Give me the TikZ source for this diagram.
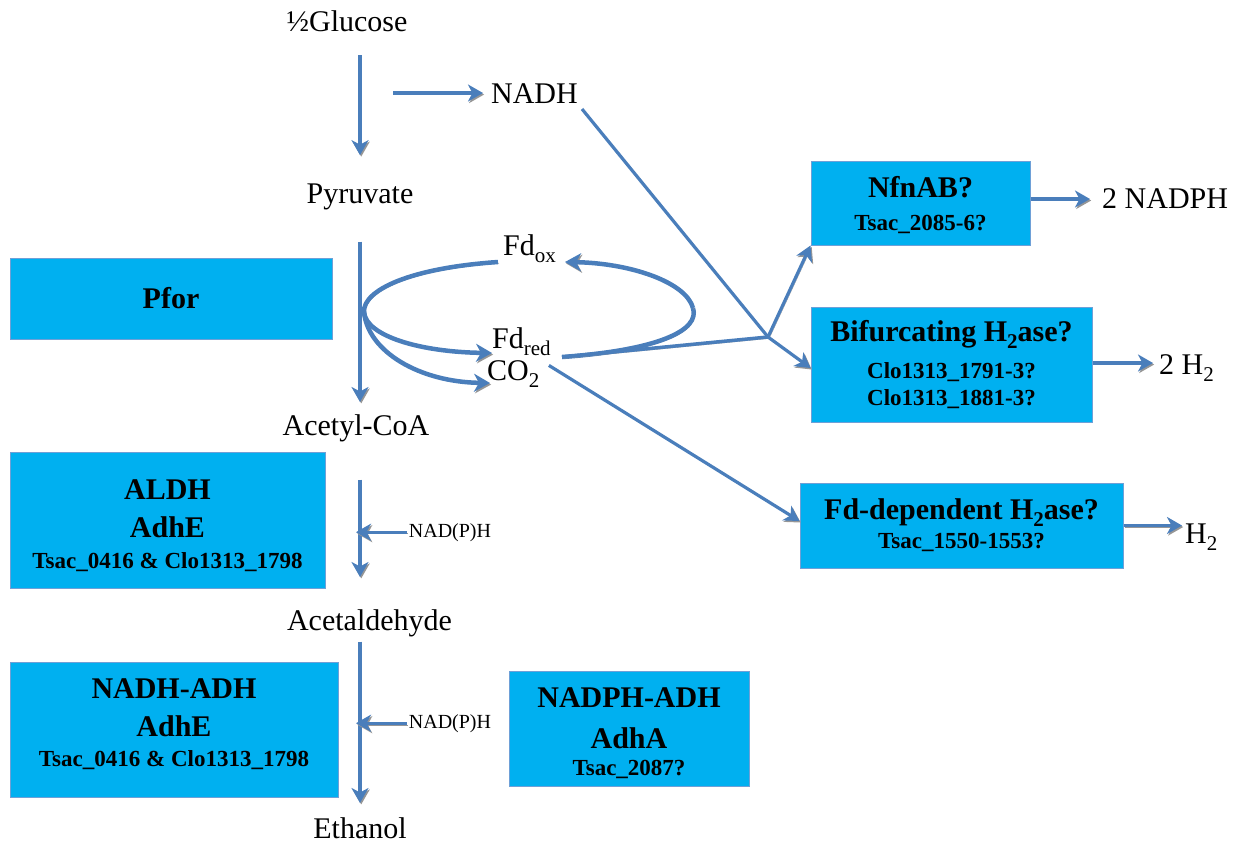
\documentclass[tikz,border=0pt]{standalone}
\usepackage{fontspec}
\setmainfont{Liberation Serif}
\usetikzlibrary{arrows.meta}
\definecolor{arrowblue}{RGB}{74,126,187}
\definecolor{boxfill}{RGB}{0,176,240}
\definecolor{boxline}{RGB}{110,160,215}
\definecolor{shade}{RGB}{150,150,150}
\newcommand\lowsub[1]{\raisebox{-7pt}{\fontsize{21}{21}\selectfont #1}}
\newcommand\genefont{\fontsize{23}{28}\selectfont}
\newcommand\topstrut[1]{\rule{0pt}{#1}}
\newcommand\botstrut[1]{\rule[-#1]{0pt}{#1}}
\begin{document}
\begin{tikzpicture}[x=1pt,y=-1pt,
  lbl/.style={inner sep=0pt, font=\fontsize{30}{30}\selectfont, anchor=base},
  cofactor/.style={inner sep=0pt, font=\fontsize{20}{20}\selectfont, anchor=base},
  enzyme/.style={draw=boxline, line width=1pt, fill=boxfill, inner sep=0pt, align=center,
    font=\bfseries\fontsize{30}{37}\selectfont},
  shadowed/.style={preaction={draw=shade, transform canvas={shift={(1.2pt,-1.5pt)}}}},
  flow/.style={draw=arrowblue, line width=3.2pt, -{Stealth[length=15pt,width=17pt,inset=4.5pt]}, shadowed},
  bigflow/.style={draw=arrowblue, line width=4.5pt, -{Stealth[length=16pt,width=18pt,inset=5pt]}, shadowed},
  plainline/.style={draw=arrowblue, line width=3.5pt, shadowed},
]
\useasboundingbox (0,0) rectangle (1241,846);

% metabolites
\node[lbl] (glucose) at (347,31) {½Glucose};
\node[lbl] (nadh) at (534.5,103) {NADH};
\node[lbl] (pyruvate) at (360,203) {Pyruvate};
\node[lbl] (acetyl) at (356,435) {Acetyl-CoA};
\node[lbl] (acetald) at (369.5,630) {Acetaldehyde};
\node[lbl] (ethanol) at (360,838) {Ethanol};
\node[lbl, anchor=base west] (fdox) at (503,255) {Fd\lowsub{ox}};
\node[lbl, anchor=base west] (fdred) at (492,348) {Fd\lowsub{red}};
\node[lbl, anchor=base west] (co2) at (487,380) {CO\lowsub{2}};
\node[cofactor] (nadph1) at (450,537) {NAD(P)H};
\node[cofactor] (nadph2) at (450,728) {NAD(P)H};
\node[lbl, anchor=base west] (outnadph) at (1102,208) {2 NADPH};
\node[lbl, anchor=base west] (outh2a) at (1159,374) {2 H\lowsub{2}};
\node[lbl, anchor=base west] (outh2b) at (1185,543) {H\lowsub{2}};

% enzyme boxes
\node[enzyme, minimum width=322, minimum height=81] (pfor) at (171,298.5) {Pfor};
\node[enzyme, minimum width=315, minimum height=136] (aldh) at (167.5,520)
  {\topstrut{31pt}ALDH\\[1pt]AdhE\\[-6pt]{\genefont Tsac\_0416 \& Clo1313\_1798}};
\node[enzyme, minimum width=328, minimum height=135] (nadhadh) at (174,729.5)
  {NADH-ADH\\[1pt]AdhE\\[-7pt]{\genefont Tsac\_0416 \& Clo1313\_1798\botstrut{14pt}}};
\node[enzyme, minimum width=240, minimum height=115] (nadphadh) at (629,728.5)
  {\topstrut{29pt}NADPH-ADH\\[4pt]AdhA\\[-10pt]{\genefont Tsac\_2087?}};
\node[enzyme, minimum width=219, minimum height=84] (nfnab) at (920.5,203)
  {\topstrut{25pt}NfnAB?\\[-4pt]{\genefont Tsac\_2085-6?}};
\node[enzyme, minimum width=281, minimum height=115] (bif) at (951.5,364.5)
  {Bifurcating H\lowsub{2}ase?\\[0pt]{\genefont Clo1313\_1791-3?}\\[-10pt]{\genefont Clo1313\_1881-3?}};
\node[enzyme, minimum width=323, minimum height=85] (fddep) at (961.5,525.5)
  {Fd-dependent H\lowsub{2}ase?\\[-8pt]{\genefont Tsac\_1550-1553?}};

% helper points
\coordinate (nadhsrc) at (393,93);
\coordinate (junction) at (768,337);
\coordinate (loopleft) at (364,312);
\coordinate (loopright) at (693,308);
\coordinate (fdredout) at (562,357);
\coordinate (fdoxin) at (498,262);
\coordinate (fdoxtip) at (565,262);
\coordinate (fdredtip) at (492,353);
\coordinate (co2tip) at (490,383);
\coordinate (nadhout) at (582,109);

% main pathway
\draw[flow, shorten <=24pt, shorten >=28pt] (glucose.south -| pyruvate.north) -- (pyruvate.north);
\draw[flow, shorten >=8pt] (nadhsrc) -- (nadh.west |- nadhsrc);
\draw[flow, shorten <=32pt, shorten >=12pt] (pyruvate.south) -- (pyruvate.south |- acetyl.north);
\draw[flow, shorten <=38pt, shorten >=32pt] (acetyl.south -| ethanol.north) -- (acetald.north -| ethanol.north);
\draw[flow, shorten <=5pt, shorten >=14pt] (acetald.south -| ethanol.north) -- (ethanol.north);
\draw[flow, shorten <=2pt, shorten >=-4pt] (nadph1.west) -- (nadph1.west -| ethanol.north);
\draw[flow, shorten <=2pt, shorten >=-4pt] (nadph2.west) -- (nadph2.west -| ethanol.north);

% ferredoxin loops
\draw[plainline, line width=4.5pt] (fdoxin) .. controls (410,268) and (363,290) .. (loopleft);
\draw[bigflow] (loopleft) .. controls (366,336) and (420,352) .. (fdredtip);
\draw[bigflow] (loopleft) .. controls (368,352) and (420,382) .. (co2tip);
\draw[plainline, line width=4.5pt] (fdredout) .. controls (660,350) and (700,330) .. (loopright);
\draw[bigflow] (loopright) .. controls (686,282) and (630,263) .. (fdoxtip);

% electron flows to hydrogenases
\draw[plainline] (fdredout) -- (junction);
\draw[plainline, line width=3.2pt] (nadhout) -- (junction);
\draw[flow] (junction) -- (nfnab.south west);
\draw[flow] (junction) -- (bif.west |- 0,368);
\draw[flow] (fdred.south east) ++(-2,10) -- (fddep.west |- 0,521);

% outputs
\draw[flow, shorten >=12pt] (nfnab.east |- 0,199) -- (outnadph.west |- 0,199);
\draw[flow, shorten >=6pt] (bif.east |- 0,363) -- (outh2a.west |- 0,363);
\draw[flow, shorten >=3pt] (fddep.east) -- (outh2b.west |- fddep.east);
\end{tikzpicture}
\end{document}
